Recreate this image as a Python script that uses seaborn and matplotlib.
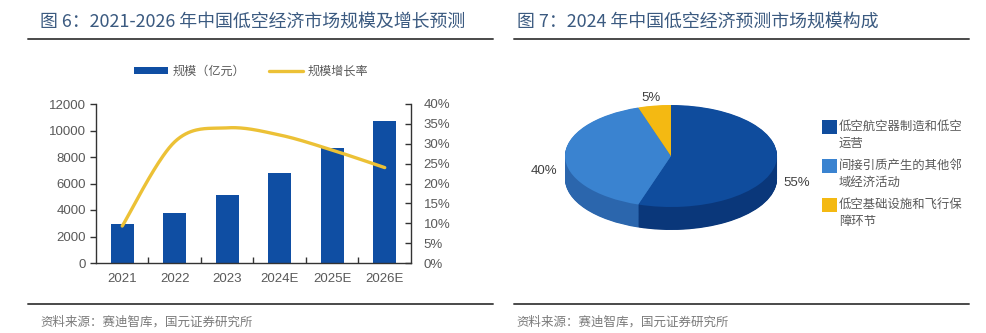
import numpy as np
import pandas as pd
import matplotlib
matplotlib.use("Agg")
import matplotlib.pyplot as plt
import seaborn as sns
from matplotlib.ticker import PercentFormatter, FixedLocator
from matplotlib.patches import Patch, Rectangle
from matplotlib.lines import Line2D

# ---------------- data ----------------
years = ["2021", "2022", "2023", "2024E", "2025E", "2026E"]
scale = [2980, 3810, 5120, 6760, 8650, 10700]
growth = [0.093, 0.305, 0.340, 0.322, 0.284, 0.240]
bar_label = "规模（亿元）"
line_label = "规模增长率"

pie_labels = ["低空航空器制造和低空\n运营",
              "间接引质产生的其他邻\n域经济活动",
              "低空基础设施和飞行保\n障环节"]
pie_values = [55, 40, 5]
pie_pct = ["55%", "40%", "5%"]

title_left = "图 6：2021-2026 年中国低空经济市场规模及增长预测"
title_right = "图 7：2024 年中国低空经济预测市场规模构成"
source = "资料来源：赛迪智库，国元证券研究所"

# ---------------- style ----------------
sns.set_theme(style="white")
plt.rcParams["font.family"] = ["Liberation Sans", "Noto Sans CJK SC", "DejaVu Sans"]
CJK = ["Noto Sans CJK SC", "DejaVu Sans"]

W, H = 987, 333
fig = plt.figure(figsize=(W / 100, H / 100), dpi=100)


def fx(x):
    return x / W


def fy(y):
    return 1 - y / H


bar_color = "#0f4ea3"
line_color = "#ecc136"
tick_color = "#595959"
title_color = "#3b5a80"

# ---------------- titles, rules, sources ----------------
for x0, t in [(40, title_left), (517, title_right)]:
    fig.text(fx(x0), fy(22), t, family=CJK, fontsize=12.9, color=title_color,
             va="center", ha="left", fontweight="medium")
for x0, x1 in [(28, 493), (514, 969)]:
    fig.add_artist(Line2D([fx(x0), fx(x1)], [fy(39), fy(39)], color="#4a4a4a", lw=1.4))
    fig.add_artist(Line2D([fx(x0), fx(x1)], [fy(304), fy(304)], color="#4a4a4a", lw=1.4))
for x0 in [40, 516]:
    fig.text(fx(x0), fy(322), source, family=CJK, fontsize=9.0, color="#7a7a7a",
             va="center", ha="left")

# ---------------- left: bar + line ----------------
ax = fig.add_axes([fx(96), fy(263), fx(411) - fx(96), fy(104) - fy(263)])
df = pd.DataFrame({"year": years, "scale": scale, "growth": growth})
sns.barplot(data=df, x="year", y="scale", ax=ax, color=bar_color, width=0.43,
            saturation=1, edgecolor="none")
ax.set_xlim(-0.5, len(years) - 0.5)
ax.set_ylim(0, 12000)
ax.set_yticks(np.arange(0, 12001, 2000))
ax.set_xlabel("")
ax.set_ylabel("")
for s in ["top", "right"]:
    ax.spines[s].set_visible(False)
for s in ["left", "bottom"]:
    ax.spines[s].set_color("#333333")
    ax.spines[s].set_linewidth(1.0)
ax.tick_params(axis="y", direction="out", length=4, width=1, color="#333333",
               labelsize=9.5, labelcolor=tick_color, pad=3, left=True)
ax.tick_params(axis="x", which="major", length=0, labelsize=9.5,
               labelcolor=tick_color, pad=7)
ax.xaxis.set_minor_locator(FixedLocator(np.arange(0.5, len(years) - 1, 1.0)))
ax.tick_params(axis="x", which="minor", direction="in", length=4, width=1,
               color="#333333", bottom=True)

# smooth (Excel-like Catmull-Rom) growth curve through the data points
xs = np.arange(len(years), dtype=float)
pts = np.column_stack([xs, growth])
P = np.vstack([pts[0], pts, pts[-1]])
curve = []
t = np.linspace(0, 1, 40)[:, None]
for i in range(1, len(P) - 2):
    p0, p1, p2, p3 = P[i - 1], P[i], P[i + 1], P[i + 2]
    c1 = p1 + (p2 - p0) / 6
    c2 = p2 - (p3 - p1) / 6
    seg = ((1 - t) ** 3) * p1 + 3 * ((1 - t) ** 2) * t * c1 + 3 * (1 - t) * t ** 2 * c2 + t ** 3 * p2
    curve.append(seg if i == 1 else seg[1:])
curve = np.vstack(curve)
cdf = pd.DataFrame({"x": curve[:, 0], "y": curve[:, 1]})

ax2 = ax.twinx()
sns.lineplot(data=cdf, x="x", y="y", ax=ax2, color=line_color, lw=2.4, sort=False)
ax2.set_xlim(-0.5, len(years) - 0.5)
ax2.set_ylim(0, 0.40)
ax2.set_yticks(np.arange(0, 0.401, 0.05))
ax2.yaxis.set_major_formatter(PercentFormatter(1.0, decimals=0))
ax2.set_ylabel("")
ax2.set_xlabel("")
for s in ["top", "left", "bottom"]:
    ax2.spines[s].set_visible(False)
ax2.spines["right"].set_color("#333333")
ax2.spines["right"].set_linewidth(1.0)
ax2.tick_params(axis="y", direction="in", length=4, width=1, color="#333333",
                labelsize=9.5, labelcolor=tick_color, pad=9, right=True)

handles = [Patch(facecolor=bar_color, edgecolor="none"),
           Line2D([], [], color=line_color, lw=2.4)]
leg = fig.legend(handles, [bar_label, line_label], ncol=2, loc="center",
                 bbox_to_anchor=(fx(251), fy(71)), frameon=False,
                 prop={"family": CJK, "size": 8.7}, handlelength=2.8,
                 handleheight=0.5, handletextpad=0.35, columnspacing=2.0)
for txt in leg.get_texts():
    txt.set_color(tick_color)

# ---------------- right: 3D-looking pie ----------------
cx, cy, a, b = 671, 156, 106, 51
depth_px = 23
x_left, x_right, y_top, y_bot = 500, 987, 60, 300
axp = fig.add_axes([fx(x_left), fy(y_bot), fx(x_right) - fx(x_left), fy(y_top) - fy(y_bot)])
top_colors = ["#0f4c9d", "#3a83d0", "#f4b912"]
side_colors = ["#0a377a", "#2b66ad", "#c99406"]
depth = depth_px / b
for d in np.linspace(depth, 0.0, 45)[:-1]:
    axp.pie(pie_values, colors=side_colors, startangle=90, counterclock=False,
            center=(0, -d), radius=1.0, wedgeprops=dict(linewidth=0))
wedges, _ = axp.pie(pie_values, colors=top_colors, startangle=90, counterclock=False,
                    center=(0, 0), radius=1.0, wedgeprops=dict(linewidth=0))
axp.set_aspect("auto")
axp.set_xlim((x_left - cx) / a, (x_right - cx) / a)
axp.set_ylim((cy - y_bot) / b, (cy - y_top) / b)
axp.axis("off")

# percentage labels at slice mid-angles
for w, lab in zip(wedges, pie_pct):
    mid = np.deg2rad((w.theta1 + w.theta2) / 2)
    r = 1.2
    lx = r * np.cos(mid)
    ly = r * np.sin(mid) - 0.65 * depth * (1 - np.sin(mid))
    if np.sin(mid) > 0.8:
        ly -= 0.05
    axp.text(lx, ly, lab, ha="center", va="center", fontsize=9.5, color="#404040")

# legend for pie
for i, (lab, col) in enumerate(zip(pie_labels, top_colors)):
    ytop = 127 + i * 39
    fig.add_artist(Rectangle((fx(822), fy(ytop + 7)), fx(837) - fx(822), fy(ytop - 7) - fy(ytop + 7),
                             facecolor=col, edgecolor="none", transform=fig.transFigure))
    fig.text(fx(839), fy(ytop - 7.5), lab, family=CJK, fontsize=8.9, color=tick_color,
             ha="left", va="top", linespacing=1.45)

fig.savefig("out.png", dpi=100, facecolor="white")
